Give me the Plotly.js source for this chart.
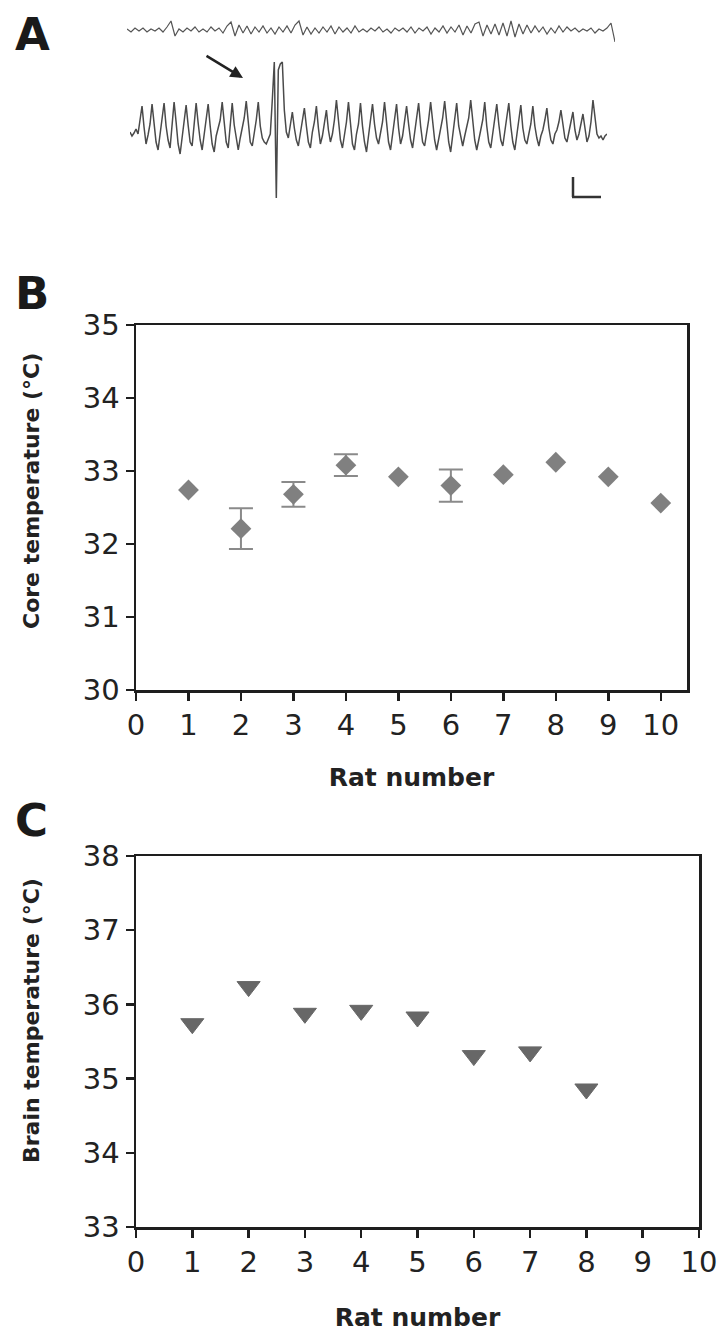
<!DOCTYPE html>
<html>
<head>
<meta charset="utf-8">
<script src="https://cdn.plot.ly/plotly-3.0.1.min.js"></script>
<style>
  html, body { margin: 0; padding: 0; background: #ffffff; }
  #chart { width: 717px; height: 1332px; }
</style>
</head>
<body>
<div id="chart"></div>
<script>
// ---------------- DATA ----------------
// Panel B: core temperature per rat (mean, SEM)
const ratsB = [1, 2, 3, 4, 5, 6, 7, 8, 9, 10];
const coreTemp = [32.74, 32.21, 32.68, 33.08, 32.92, 32.80, 32.95, 33.12, 32.92, 32.56];
const coreErr = [null, 0.28, 0.17, 0.15, null, 0.22, null, null, null, null];

// Panel C: brain temperature per rat
const ratsC = [1, 2, 3, 4, 5, 6, 7, 8];
const brainTemp = [35.74, 36.24, 35.88, 35.92, 35.83, 35.31, 35.36, 34.86];

const ratTicks = [0, 1, 2, 3, 4, 5, 6, 7, 8, 9, 10];
const coreTicks = [30, 31, 32, 33, 34, 35];
const brainTicks = [33, 34, 35, 36, 37, 38];

// Panel A: EEG traces (arbitrary units, up = positive)
const eegTop = [
  1, -2, 2, -1, 2, -2, 1, -1, 2, -2,
  3, 9, -6, 1, -2, 2, -1, 3, -2, 1,
  -2, 3, -1, 2, -3, 4, 8, -6, 5, -3,
  4, -4, 3, -2, 4, -3, 2, -4, 3, -2,
  4, -3, 5, 9, -5, 3, -4, 2, -3, 3,
  -2, 4, -4, 3, -2, 2, -3, 4, -2, 1,
  -2, 2, -1, 3, -2, 1, -3, 2, -1, 2,
  -2, 3, -3, 2, -1, 3, -4, 2, -2, 4,
  -3, 3, -2, 5, -5, 4, -3, 6, 8, -6,
  5, -4, 6, -5, 7, -6, 9, -7, 6, -4,
  5, -3, 4, -2, 3, -4, 2, -3, 4, -2,
  3, -1, 2, -2, 1, -1, 2, -3, 1, -1,
  2, 7, -12
];
const eegBottom = [
  -2, -6, -3, 1, -4, 10,
  24, 3, -14, -5, 6,
  26, 6, -12, -20, -6, 8,
  27, 4, -10, -18, 2,
  28, 8, -14, -24, -8, 6,
  25, 5, -12, -16, 4,
  27, 7, -10, -20, -4, 8,
  26, 4, -14, -22, -6, 2, 10,
  28, 6, -12, -18, 6,
  27, 5, -10, -20, -8, 4, 12,
  29, 6, -12, -16, -4, 10,
  28, 4, -8, -12, -14,
  -8, -4, 30, 68, -68, 60, 66, 68, 20, -2, -8, 4,
  18, 2, -10, -16, -4, 6,
  22, 4, -12, -18, -2, 8,
  24, 2, -14, -6, 6,
  20, 0, -12, -4, 10,
  30, 8, -10, -18, -6, 8,
  28, 6, -14, -20, -4, 6,
  27, 4, -12, -22, -6, 10,
  26, 6, -8, -14, -2, 8,
  28, 4, -12, -20, -4, 10,
  26, 2, -14, -6, 8,
  24, 6, -10, -18, -2, 8,
  27, 4, -12, -16, -4, 10,
  28, 6, -10, -20, -8, 0, 12,
  29, 5, -12, -22, -4, 8,
  27, 4, -8, -16, -6, 2, 12,
  30, 6, -10, -20, -8, 0, 10,
  28, 4, -12, -18, -4, 8,
  26, 6, -10, -16, -2, 10,
  27, 4, -12, -20, -6, 8,
  25, 2, -10, -14, -4, 6,
  24, 4, -8, -16, -6, 0, 10,
  22, 2, -10, -14, -4, 0, 8,
  20, 4, -8, -12, -2, 6,
  18, 0, -10, -4, 6,
  16, 2, -12, -6, 8,
  30, 10, -4, -8, -6, -10, -6,
  -4
];

// ---------------- HELPERS ----------------
const W = 717, H = 1332;
const px = v => v / W;          // horizontal pixel -> paper
const py = v => 1 - v / H;      // vertical pixel (from top) -> paper
const idx = arr => arr.map((_, i) => i);

const axisColor = '#1e1e1e';
const tickFont = { family: 'DejaVu Sans', size: 29, color: '#222222' };
const titleFont = { family: 'DejaVu Sans', size: 25, color: '#222222', weight: 'bold' };

function numAxis(extra) {
  return Object.assign({
    showline: true, linewidth: 2.5, linecolor: axisColor, mirror: true,
    ticks: 'outside', ticklen: 8, tickwidth: 2.5, tickcolor: axisColor,
    showgrid: false, zeroline: false, tickfont: tickFont, fixedrange: true,
    ticklabeloverflow: 'allow'
  }, extra);
}

// subset of rats that have a visible error bar
const errIdx = coreErr.map((e, i) => (e === null ? -1 : i)).filter(i => i >= 0);

// ---------------- TRACES ----------------
const traces = [
  {
    type: 'scatter', mode: 'lines', x: idx(eegTop), y: eegTop,
    xaxis: 'x3', yaxis: 'y3',
    line: { color: '#555555', width: 1.2 }, hoverinfo: 'skip', showlegend: false
  },
  {
    type: 'scatter', mode: 'lines', x: idx(eegBottom), y: eegBottom,
    xaxis: 'x4', yaxis: 'y4',
    line: { color: '#4a4a4a', width: 1.5 }, hoverinfo: 'skip', showlegend: false
  },
  {
    // error bars (SEM) only
    type: 'scatter', mode: 'markers',
    x: errIdx.map(i => ratsB[i]), y: errIdx.map(i => coreTemp[i]),
    xaxis: 'x', yaxis: 'y',
    marker: { symbol: 'diamond', size: 16, color: 'rgba(0,0,0,0)' },
    error_y: { type: 'data', array: errIdx.map(i => coreErr[i]), visible: true, color: '#8a8a8a', thickness: 2, width: 12 },
    showlegend: false
  },
  {
    type: 'scatter', mode: 'markers', x: ratsB, y: coreTemp,
    xaxis: 'x', yaxis: 'y',
    marker: { symbol: 'diamond', size: 16, color: '#808080', line: { width: 0 } },
    showlegend: false
  },
  {
    type: 'scatter', mode: 'markers', x: ratsC, y: brainTemp,
    xaxis: 'x2', yaxis: 'y2',
    marker: { symbol: 'triangle-down', size: 20, color: '#676767', line: { width: 1, color: '#676767' } },
    showlegend: false
  }
];

// ---------------- LAYOUT ----------------
const layout = {
  width: W, height: H,
  margin: { l: 0, r: 0, t: 0, b: 0 },
  paper_bgcolor: '#ffffff', plot_bgcolor: '#ffffff',
  showlegend: false,
  // Panel B
  xaxis: numAxis({
    domain: [px(136), px(687)], range: [0, 10.5], anchor: 'y',
    tickvals: ratTicks, ticktext: ratTicks.map(String),
    title: { text: 'Rat number', font: titleFont, standoff: 27 }
  }),
  yaxis: numAxis({
    domain: [py(690), py(325)], range: [30, 35], anchor: 'x',
    tickvals: coreTicks, ticktext: coreTicks.map(String)
  }),
  // Panel C
  xaxis2: numAxis({
    domain: [px(136), px(699)], range: [0, 10], anchor: 'y2',
    tickvals: ratTicks, ticktext: ratTicks.map(String),
    title: { text: 'Rat number', font: titleFont, standoff: 34 }
  }),
  yaxis2: numAxis({
    domain: [py(1227), py(856)], range: [33, 38], anchor: 'x2',
    tickvals: brainTicks, ticktext: brainTicks.map(String)
  }),
  // Panel A (hidden axes for EEG traces)
  xaxis3: { domain: [px(127), px(615)], range: [0, eegTop.length - 1], visible: false, anchor: 'y3', fixedrange: true },
  yaxis3: { domain: [py(44), py(16)], range: [-14, 14], visible: false, anchor: 'x3', fixedrange: true },
  xaxis4: { domain: [px(130), px(607)], range: [0, eegBottom.length - 1], visible: false, anchor: 'y4', fixedrange: true },
  yaxis4: { domain: [py(200), py(60)], range: [-70, 70], visible: false, anchor: 'x4', fixedrange: true },
  shapes: [
    // scale bar
    { type: 'line', xref: 'paper', yref: 'paper', x0: px(573), x1: px(573), y0: py(177), y1: py(197), line: { color: '#333333', width: 2.5 } },
    { type: 'line', xref: 'paper', yref: 'paper', x0: px(572), x1: px(601), y0: py(197), y1: py(197), line: { color: '#333333', width: 2.5 } }
  ],
  annotations: [
    { text: 'A', xref: 'paper', yref: 'paper', x: px(13), y: py(34), xanchor: 'left', yanchor: 'middle', showarrow: false,
      font: { family: 'DejaVu Sans', size: 45, color: '#1a1a1a', weight: 'bold' } },
    { text: 'B', xref: 'paper', yref: 'paper', x: px(13), y: py(294), xanchor: 'left', yanchor: 'middle', showarrow: false,
      font: { family: 'DejaVu Sans', size: 45, color: '#1a1a1a', weight: 'bold' } },
    { text: 'C', xref: 'paper', yref: 'paper', x: px(13), y: py(820), xanchor: 'left', yanchor: 'middle', showarrow: false,
      font: { family: 'DejaVu Sans', size: 45, color: '#1a1a1a', weight: 'bold' } },
    { text: 'Core temperature (°C)', xref: 'paper', yref: 'paper', x: px(31), y: py(491), textangle: -90,
      xanchor: 'center', yanchor: 'middle', showarrow: false,
      font: { family: 'DejaVu Sans', size: 22, color: '#222222', weight: 'bold' } },
    { text: 'Brain temperature (°C)', xref: 'paper', yref: 'paper', x: px(31), y: py(1021), textangle: -90,
      xanchor: 'center', yanchor: 'middle', showarrow: false,
      font: { family: 'DejaVu Sans', size: 22, color: '#222222', weight: 'bold' } },
    // arrow pointing at the event onset
    { text: '', xref: 'paper', yref: 'paper', x: px(243), y: py(78), ax: -38, ay: -23,
      showarrow: true, arrowhead: 2, arrowsize: 1, arrowwidth: 2.5, arrowcolor: '#222222' }
  ]
};

Plotly.newPlot('chart', traces, layout, { staticPlot: true, displayModeBar: false });
</script>
</body>
</html>
